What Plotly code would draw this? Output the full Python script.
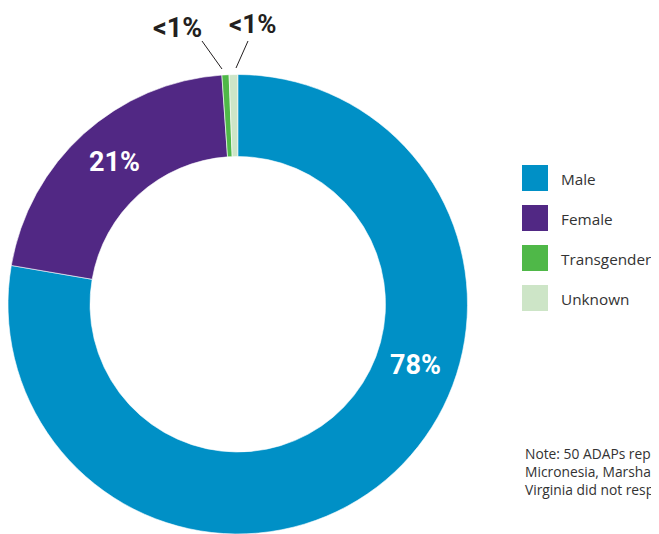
import plotly.graph_objects as go

labels = ["Male", "Female", "Transgender", "Unknown"]
values = [77.7, 21.2, 0.5, 0.6]
pct_text = ["78%", "21%", "<1%", "<1%"]
colors = ["#0090c6", "#512884", "#4fb848", "#cde5c7"]

note = ("Note: 50 ADAPs reported. Federated States of<br>"
        "Micronesia, Marshall Islands, Palau and West<br>"
        "Virginia did not respond.")

# the page body adds an 8px margin, so the figure is sized to the window minus it
OFF = 8
W, H = 659 - OFF, 534 - OFF


def px(x):
    return (x - OFF) / W


def py(y):
    return 1 - (y - OFF) / H


fig = go.Figure()
fig.add_trace(go.Pie(
    labels=labels, values=values, sort=False, direction="clockwise",
    rotation=0, hole=0.643, textinfo="none", hoverinfo="label+percent",
    marker=dict(colors=colors, line=dict(color="white", width=0.6)),
    domain=dict(x=[0, 459.5 / W], y=[0, py(74.5)]),
    showlegend=False,
))

bold = dict(family="Roboto, sans-serif", size=27, weight="bold")


def label(x, y, txt, col, size=27):
    fig.add_annotation(x=px(x), y=py(y), xref="paper", yref="paper",
                       xanchor="center", yanchor="middle", text=txt,
                       showarrow=False, font=dict(bold, color=col, size=size))


# percentage labels
label(416, 365, pct_text[0], "white")
label(114, 162, pct_text[1], "white")
label(177, 28, pct_text[2], "#231f20")
label(252, 24, pct_text[3], "#231f20", 26)

# leader lines
fig.add_shape(type="line", xref="paper", yref="paper",
              x0=px(202), y0=py(41), x1=px(222), y1=py(69),
              line=dict(color="#231f20", width=1))
fig.add_shape(type="line", xref="paper", yref="paper",
              x0=px(248), y0=py(41), x1=px(236), y1=py(68),
              line=dict(color="#231f20", width=1))

# legend
for i, (lab, col) in enumerate(zip(labels, colors)):
    top = 165 + i * 40
    fig.add_shape(type="rect", xref="paper", yref="paper",
                  x0=px(522), x1=px(548), y0=py(top), y1=py(top + 26),
                  fillcolor=col, line=dict(width=0))
    fig.add_annotation(x=px(559), y=py(top + 14), xref="paper", yref="paper",
                       text=lab, showarrow=False, xanchor="left", yanchor="middle",
                       font=dict(family="Open Sans, sans-serif", size=15.3, color="#333333"))

fig.add_annotation(x=px(523), y=py(442), xref="paper", yref="paper",
                   text=note, showarrow=False, xanchor="left", yanchor="top", align="left",
                   font=dict(family="Open Sans, sans-serif", size=13.8, color="#333333"))

fig.update_layout(width=W, height=H, margin=dict(l=0, r=0, t=0, b=0),
                  paper_bgcolor="white", plot_bgcolor="white")
fig.write_html("out.html")
